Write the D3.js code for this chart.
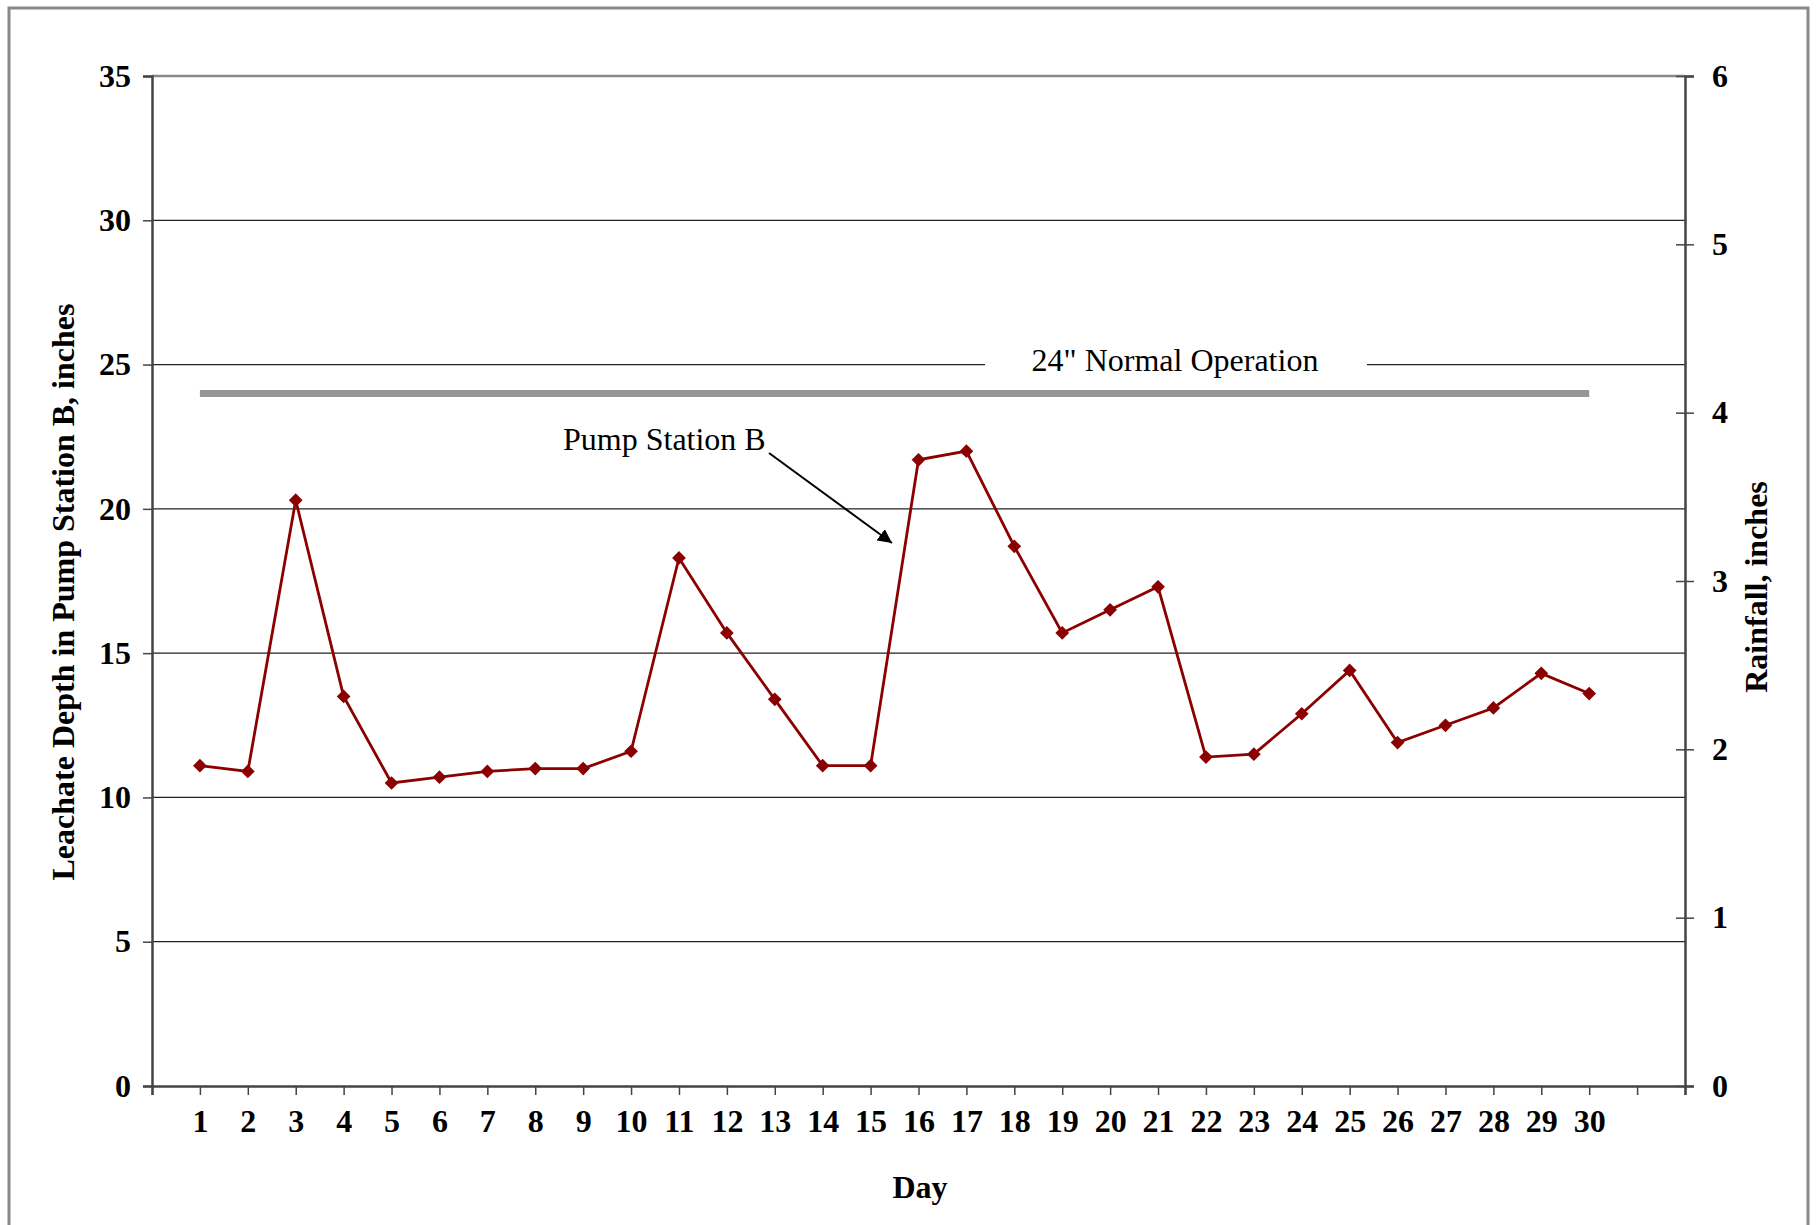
<!DOCTYPE html>
<html lang="en">
<head>
<meta charset="utf-8">
<title></title>
<script src="https://d3js.org/d3.v7.min.js"></script>
<style type="text/css">
  body { margin: 0; background: #fff; }
  text { font-family: "Liberation Serif", "Times New Roman", serif; }
</style>
</head>
<body>
<svg width="1818" height="1225" id="svg1"></svg>
<script>
  var days = d3.range(1, 31);
  var depth = [11.1, 10.9, 20.3, 13.5, 10.5, 10.7, 10.9, 11.0, 11.0, 11.6,
               18.3, 15.7, 13.4, 11.1, 11.1, 21.7, 22.0, 18.7, 15.7, 16.5,
               17.3, 11.4, 11.5, 12.9, 14.4, 11.9, 12.5, 13.1, 14.3, 13.6];
  var normalLevel = 24;
  var leftTicks = [0, 5, 10, 15, 20, 25, 30, 35];
  var rightTicks = [0, 1, 2, 3, 4, 5, 6];
  var xTicks = d3.range(0, 33);

  var svg = d3.select("#svg1");
  var margin = {top: 76, right: 133, bottom: 139, left: 152};
  var width = 1818 - margin.left - margin.right;
  var height = 1225 - margin.top - margin.bottom;

  // outer frame
  svg.append("rect").attr("x", 9).attr("y", 8).attr("width", 1799).attr("height", 1240)
    .attr("fill", "none").attr("stroke", "#888").attr("stroke-width", 3);

  var g = svg.append("g").attr("transform", `translate(${margin.left}, ${margin.top})`);

  var xScale = d3.scaleLinear().domain([0, 32]).range([0, width]);
  var yScale = d3.scaleLinear().domain([0, 35]).range([height, 0]);
  var y2Scale = d3.scaleLinear().domain([0, 6]).range([height, 0]);

  // gridlines
  g.selectAll(".grid").data(leftTicks.filter(function(d) { return d > 0 && d < 35; }))
    .enter().append("line").attr("class", "grid")
    .attr("x1", 0).attr("x2", width)
    .attr("y1", function(d) { return yScale(d); }).attr("y2", function(d) { return yScale(d); })
    .attr("stroke", "#222").attr("stroke-width", 1.2);
  // top border
  g.append("line").attr("x1", 0).attr("x2", width).attr("y1", 0).attr("y2", 0)
    .attr("stroke", "#888").attr("stroke-width", 2.5);

  // left axis
  var yAxis = d3.axisLeft(yScale).tickValues(leftTicks).tickSize(9).tickPadding(12);
  var ya = g.append("g").call(yAxis);
  ya.select(".domain").attr("stroke", "#444").attr("stroke-width", 2.5);
  ya.selectAll(".tick line").attr("stroke", "#444").attr("stroke-width", 1.5);
  ya.selectAll(".tick text").attr("font-size", 32).attr("font-weight", "bold")
    .attr("font-family", "Liberation Serif").attr("fill", "#000");

  // right axis
  var y2Axis = d3.axisRight(y2Scale).tickValues(rightTicks).tickSize(9).tickPadding(18)
    .tickFormat(d3.format("d"));
  var y2a = g.append("g").attr("transform", `translate(${width}, 0)`).call(y2Axis);
  y2a.select(".domain").attr("stroke", "#444").attr("stroke-width", 2.5);
  y2a.selectAll(".tick line").attr("x1", -9).attr("stroke", "#444").attr("stroke-width", 1.5);
  y2a.selectAll(".tick text").attr("font-size", 32).attr("font-weight", "bold")
    .attr("font-family", "Liberation Serif").attr("fill", "#000");

  // bottom axis
  var xAxis = d3.axisBottom(xScale).tickValues(xTicks).tickSize(9).tickPadding(14)
    .tickFormat(function(d) { return (d >= 1 && d <= 30) ? d : ""; });
  var xa = g.append("g").attr("transform", `translate(0, ${height})`).call(xAxis);
  xa.select(".domain").attr("stroke", "#444").attr("stroke-width", 2.5);
  xa.selectAll(".tick line").attr("stroke", "#444").attr("stroke-width", 1.5);
  xa.selectAll(".tick text").attr("font-size", 32).attr("font-weight", "bold")
    .attr("font-family", "Liberation Serif").attr("fill", "#000");

  // normal operation line
  g.append("line")
    .attr("x1", xScale(days[0])).attr("x2", xScale(days[days.length - 1]))
    .attr("y1", yScale(normalLevel)).attr("y2", yScale(normalLevel))
    .attr("stroke", "#969696").attr("stroke-width", 7);

  // label box covering gridline
  g.append("rect").attr("x", 985 - margin.left).attr("y", yScale(25) - 20)
    .attr("width", 382).attr("height", 40).attr("fill", "#fff");
  g.append("text").attr("x", 1175 - margin.left).attr("y", 371 - margin.top)
    .attr("text-anchor", "middle").attr("font-size", 32).attr("fill", "#000")
    .text('24" Normal Operation');

  // data line
  var line = d3.line().x(function(d, i) { return xScale(days[i]); }).y(function(d) { return yScale(d); });
  g.append("path").datum(depth).attr("d", line)
    .attr("fill", "none").attr("stroke", "#8B0000").attr("stroke-width", 2.8);
  g.selectAll(".pt").data(depth).enter().append("path").attr("class", "pt")
    .attr("d", d3.symbol().type(d3.symbolDiamond2).size(120))
    .attr("transform", function(d, i) { return `translate(${xScale(days[i])}, ${yScale(d)})`; })
    .attr("fill", "#8B0000");

  // annotation
  svg.append("defs").append("marker").attr("id", "arrow")
    .attr("viewBox", "0 0 10 10").attr("refX", 10).attr("refY", 5)
    .attr("markerWidth", 7).attr("markerHeight", 7).attr("markerUnits", "strokeWidth")
    .attr("orient", "auto")
    .append("path").attr("d", "M0,0 L10,5 L0,10 z").attr("fill", "#000");
  svg.append("text").attr("x", 563).attr("y", 450).attr("font-size", 32).attr("fill", "#000")
    .text("Pump Station B");
  svg.append("line").attr("x1", 769).attr("y1", 453).attr("x2", 892).attr("y2", 543)
    .attr("stroke", "#000").attr("stroke-width", 2).attr("marker-end", "url(#arrow)");

  // axis titles
  svg.append("text").attr("transform", "translate(74, 592) rotate(-90)")
    .attr("text-anchor", "middle").attr("font-size", 32).attr("font-weight", "bold")
    .text("Leachate Depth in Pump Station B, inches");
  svg.append("text").attr("transform", "translate(1767, 587) rotate(-90)")
    .attr("text-anchor", "middle").attr("font-size", 32).attr("font-weight", "bold")
    .text("Rainfall, inches");
  svg.append("text").attr("x", 920).attr("y", 1198)
    .attr("text-anchor", "middle").attr("font-size", 32).attr("font-weight", "bold")
    .text("Day");
</script>
</body>
</html>
